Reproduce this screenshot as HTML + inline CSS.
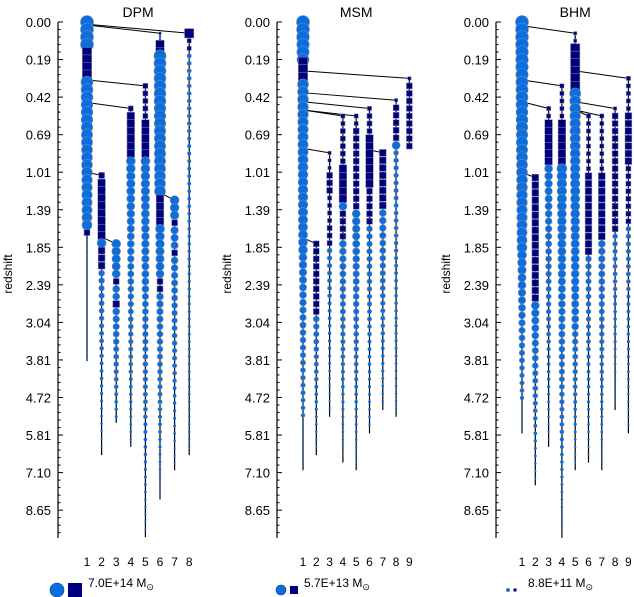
<!DOCTYPE html>
<html><head><meta charset="utf-8"><style>
body{margin:0;background:#fff}
svg{display:block;font-family:"Liberation Sans",sans-serif}
</style></head><body>
<svg id="c" width="634" height="597"></svg>
<script>
const panelNames=["DPM","MSM","BHM"];
const tickLabels=["0.00","0.19","0.42","0.69","1.01","1.39","1.85","2.39","3.04","3.81","4.72","5.81","7.10","8.65"];
const legendMasses=["7.0E+14","5.7E+13","8.8E+11"];
// branch: [col, topIdx, bottomIdx, parentCol, mergeIdx, segments[[from,to,rStart,rEnd,shape]]]
const dpmBranches=[
 [1,0,45,0,0,[[0,3,6.5,6.5,"c"],[4,7,5.5,5.5,"s"],[8,27,6,5,"c"],[28,28,3.5,3.5,"s"],[29,45,1,1,"c"]]],
 [8,1.5,57.6,1,0.3,[[1.5,1.5,5.5,5.5,"s"],[2.5,3.5,2.5,2.5,"s"],[4.5,57,2.2,1.2,"c"]]],
 [6,1.5,63.5,1,0.4,[[1.5,2.5,1.5,1.5,"s"],[3,4,5,5,"s"],[4.5,22.5,6,5.5,"c"],[23.5,26.5,4.5,4.5,"s"],[27.5,33.5,4.5,4,"c"],[34.5,35.5,3.5,3.5,"s"],[36.5,63,3.5,1,"c"]]],
 [5,8.5,68.5,1,7.7,[[8.5,12.5,3,3,"s"],[13.5,17.5,4.5,4.5,"s"],[18.5,35.5,4.5,3.5,"c"],[36.5,68,3.2,1,"c"]]],
 [4,11.5,56.5,1,10.7,[[11.5,11.5,3,3,"s"],[12.5,17.5,4.5,4.5,"s"],[18.5,56,4.5,1.2,"c"]]],
 [2,20.4,57.6,1,20,[[20.4,20.4,3.5,3.5,"s"],[21.4,28.4,4.5,4.5,"s"],[29.4,29.4,4.5,4.5,"c"],[30.4,32.4,4,4,"s"],[33.4,57,3,1,"c"]]],
 [3,29.5,53.3,2,28.6,[[29.5,33.5,4.5,4,"c"],[34.5,34.5,3.5,3.5,"s"],[35.5,36.5,3.5,3.5,"c"],[37.5,37.5,4,4,"s"],[38.5,53,3.5,1.5,"c"]]],
 [7,23.7,59.6,6,22.7,[[23.7,25.7,4.5,4.3,"c"],[26.7,26.7,3.5,3.5,"s"],[27.7,29.7,3.8,3.6,"c"],[30.7,30.7,3.5,3.5,"s"],[31.7,59,3.5,1,"c"]]]
];
const msmBranches=[
 [1,0,59.6,0,0,[[0,5,6.5,6,"c"],[5.3,7.3,5.5,5.5,"s"],[8.3,30.3,5.5,4.5,"c"],[31.3,52.3,4,2,"c"],[53.3,59,1,1,"c"]]],
 [9,7.5,16.5,1,6.5,[[7.5,7.5,2,2,"s"],[8.5,16.5,3.5,3.5,"s"]]],
 [8,10.4,52.5,1,9.4,[[10.4,10.4,2,2,"s"],[11.4,15.4,3.5,3.5,"s"],[16.4,16.4,4,4,"c"],[17.4,52,2.5,1.2,"c"]]],
 [6,11.5,54.7,1,10.6,[[11.5,11.5,2.5,2.5,"s"],[12.5,14.5,3,3,"s"],[15.5,21.5,4.5,4.5,"s"],[22.5,26.5,3.5,3.5,"s"],[27.5,54,3,1.2,"c"]]],
 [4,12.5,58.6,1,11.7,[[12.5,13.5,2.5,2.5,"s"],[14.5,18.5,3,3,"s"],[19.5,23.5,4.5,4.5,"s"],[24.5,24.5,4,4,"c"],[25.5,28.5,3.5,3.5,"s"],[29.5,58,3.5,1,"c"]]],
 [5,12.5,59.6,1,11.7,[[12.5,13.5,2.5,2.5,"s"],[14.5,24.5,3.5,3.5,"s"],[25.5,59,4,1,"c"]]],
 [7,17.4,51.6,6,17,[[17.4,24.4,4,4,"s"],[25.4,51,3.5,1.2,"c"]]],
 [3,17.4,52.5,1,16.8,[[17.4,19.4,2,2,"s"],[20.4,22.4,3.5,3.5,"s"],[23.4,26.4,2.5,2.5,"s"],[27.4,29.4,3,3,"s"],[30.4,52,2.5,1,"c"]]],
 [2,29.5,57.6,1,28.7,[[29.5,38.5,3.5,3.5,"s"],[39.5,57,3,1,"c"]]]
];
const bhmBranches=[
 [1,0,54.7,0,0,[[0,30,6.5,5,"c"],[31,50,4.5,2,"c"],[51,54,1,1,"c"]]],
 [5,1.5,59.6,1,0.5,[[1.5,2.5,2,2,"s"],[3.5,8.5,5.5,5.5,"s"],[9.5,40.5,5.5,3.5,"c"],[41.5,59,3,1,"c"]]],
 [9,7.5,54.7,5,6.5,[[7.5,11.5,2.5,2.5,"s"],[12.5,18.5,4,4,"s"],[19.5,26.5,3,3,"s"],[27.5,54,2.5,1,"c"]]],
 [4,8.5,68.6,1,7.7,[[8.5,12.5,2.5,2.5,"s"],[13.5,18.5,4.5,4.5,"s"],[19.5,68,5,1,"c"]]],
 [3,11.5,56.5,1,10.6,[[11.5,12.5,2.5,2.5,"s"],[13.5,18.5,4.5,4.5,"s"],[19.5,56,4,1,"c"]]],
 [8,11.5,51.6,5,10.6,[[11.5,11.5,2,2,"s"],[12.5,27.5,3.5,3.5,"s"],[28.5,51,2.5,1,"c"]]],
 [6,12.5,58.6,5,11.7,[[12.5,19.5,2.5,2.5,"s"],[20.5,30.5,4,4,"s"],[31.5,58,3,1,"c"]]],
 [7,12.5,59.6,5,11.7,[[12.5,19.5,2.5,2.5,"s"],[20.5,28.5,4,4,"s"],[29.5,59,3.5,1,"c"]]],
 [2,20.7,61.6,1,20,[[20.7,36.7,4,4,"s"],[37.7,61,4,1,"c"]]]
];
const branchSets=[dpmBranches,msmBranches,bhmBranches];
const colCounts=[8,9,9];

const NS="http://www.w3.org/2000/svg";
const svg=document.getElementById("c");
function mk(tag,attrs,parent){const e=document.createElementNS(NS,tag);for(const k in attrs)e.setAttribute(k,attrs[k]);(parent||svg).appendChild(e);return e;}
const axisX=[58,277,496];
const col1X=[87,303,522];
const colStep=[14.6,13.3,13.3];
const yOf=i=>22+i*7.52;
const tickY=k=>22+k*37.55;

panelNames.forEach((nm,p)=>{
  const g=mk("g",{});
  
  
  const ax=axisX[p];
  const t=mk("text",{x:col1X[p]+(colCounts[p]-1)*colStep[p]/2,y:17,"font-size":14,"text-anchor":"middle"},g);
  t.textContent=nm;
  
  
  const axis=mk("line",{x1:ax,y1:22,x2:ax,y2:538,stroke:"#000","stroke-width":1.2},g);
  
  
  for(let m=0;m<=68;m++){const y=22+m*7.51;mk("line",{x1:ax,y1:y,x2:ax+(m%5==0?5:2.5),y2:y,stroke:"#000","stroke-width":1},g);}
  tickLabels.forEach((lb,k)=>{
    const tl=mk("text",{x:ax-7,y:tickY(k)+5,"font-size":13,"text-anchor":"end"},g);
    tl.textContent=lb;
    
    
  });
  const yt=mk("text",{x:0,y:0,"font-size":12,"text-anchor":"middle",transform:`translate(${ax-46},274) rotate(-90)`},g);
  yt.textContent="redshift";
  
  
  const cx=c=>col1X[p]+(c-1)*colStep[p];
  for(let c=1;c<=colCounts[p];c++){
    const cl=mk("text",{x:cx(c),y:566,"font-size":12,"text-anchor":"middle"},g);
    cl.textContent=String(c);
    
    
  }
  const branches=branchSets[p];
  branches.forEach(b=>{
    const [col,top,bot,par,mi]=b;
    const l=mk("line",{x1:cx(col),y1:yOf(top),x2:cx(col),y2:yOf(bot),stroke:"#000","stroke-width":1.2},g);
    
    
    if(par){
      const m=mk("line",{x1:cx(par),y1:yOf(mi),x2:cx(col),y2:yOf(top),stroke:"#000","stroke-width":1},g);
      
      
    }
  });
  branches.forEach(b=>{
    const x=cx(b[0]);
    b[5].forEach(([f,to,r0,r1,sh])=>{
      const n=Math.max(1,Math.floor(to-f+0.01));
      for(let i=f;i<=to+0.01;i+=1){
        const y=yOf(i);
        const r=r0+(r1-r0)*(n?(i-f)/n:0);
        let e;
        if(sh==="c") e=mk("circle",{cx:x,cy:y,r:r,fill:"#0a6de0",stroke:"#7a8aa0","stroke-width":r>2?0.6:0},g);
        else {const h=r*0.85;e=mk("rect",{x:x-h,y:y-h,width:2*h,height:2*h,fill:"#00007f",stroke:"#8890a0","stroke-width":0.5},g);}
        
        
      }
    });
  });
});
const legR=[[7,7],[5,4],[1.5,1.5]];
const legX=[57,281,508];
legendMasses.forEach((m,p)=>{
  const g=mk("g",{});
  
  
  const [rc,rs]=legR[p];const x=legX[p];
  mk("circle",{cx:x,cy:590,r:rc,fill:"#0a6de0",stroke:"#123a78","stroke-width":0.6},g);
  const sx=x+rc+4+rs;
  mk("rect",{x:sx-rs,y:590-rs,width:2*rs,height:2*rs,fill:"#00007f"},g);
  const t=mk("text",{x:p==2?528:sx+rs+6,y:587,"font-size":12},g);
  t.textContent=m+"  M";
  const sub=mk("tspan",{"font-size":9,dy:3},t);
  sub.textContent="⊙";
});
</script>
</body></html>
